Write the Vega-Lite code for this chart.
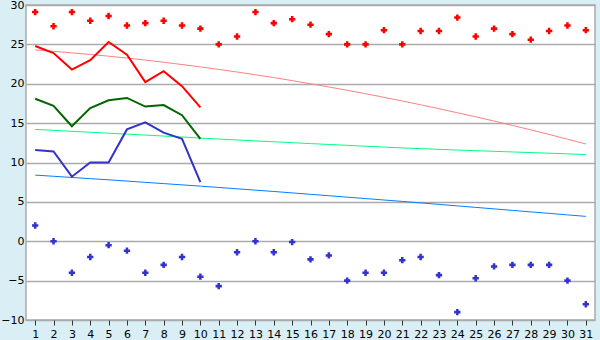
{
  "$schema": "https://vega.github.io/schema/vega-lite/v6.json",
  "width": 569,
  "height": 315,
  "autosize": {"type": "none"},
  "padding": {"left": 26, "top": 5, "right": 5, "bottom": 20},
  "background": "#D9EFF5",
  "view": {"fill": "#FFFFFF", "stroke": "#AAAAAA", "strokeWidth": 1.5},
  "config": {
    "axis": {"labelFont": "DejaVu Sans", "labelFontSize": 11, "labelColor": "#000000", "title": null, "domain": false},
    "axisY": {"grid": true, "gridColor": "#AAAAAA", "gridWidth": 1.5, "ticks": false, "labelPadding": 2, "labelFlush": false}
  },
  "data": {"values": [
    {"day": 1, "tmax": 29.1, "tmin": 2.0, "hi": 24.8, "mid": 18.1, "lo": 11.6, "thi": 24.3, "tmid": 14.2, "tlo": 8.4},
    {"day": 2, "tmax": 27.3, "tmin": 0.0, "hi": 23.9, "mid": 17.2, "lo": 11.4, "thi": 24.12, "tmid": 14.08, "tlo": 8.25},
    {"day": 3, "tmax": 29.1, "tmin": -4.0, "hi": 21.8, "mid": 14.6, "lo": 8.2, "thi": 23.92, "tmid": 13.96, "tlo": 8.1},
    {"day": 4, "tmax": 28.0, "tmin": -2.0, "hi": 23.0, "mid": 16.9, "lo": 10.0, "thi": 23.72, "tmid": 13.84, "tlo": 7.95},
    {"day": 5, "tmax": 28.6, "tmin": -0.5, "hi": 25.3, "mid": 17.9, "lo": 10.0, "thi": 23.5, "tmid": 13.72, "tlo": 7.8},
    {"day": 6, "tmax": 27.4, "tmin": -1.2, "hi": 23.7, "mid": 18.2, "lo": 14.2, "thi": 23.26, "tmid": 13.6, "tlo": 7.64},
    {"day": 7, "tmax": 27.7, "tmin": -4.0, "hi": 20.2, "mid": 17.1, "lo": 15.1, "thi": 23.0, "tmid": 13.48, "tlo": 7.48},
    {"day": 8, "tmax": 28.0, "tmin": -3.0, "hi": 21.6, "mid": 17.3, "lo": 13.8, "thi": 22.73, "tmid": 13.36, "tlo": 7.32},
    {"day": 9, "tmax": 27.4, "tmin": -2.0, "hi": 19.7, "mid": 16.0, "lo": 13.0, "thi": 22.44, "tmid": 13.24, "tlo": 7.16},
    {"day": 10, "tmax": 27.0, "tmin": -4.5, "hi": 17.0, "mid": 13.0, "lo": 7.5, "thi": 22.14, "tmid": 13.1, "tlo": 7.0},
    {"day": 11, "tmax": 25.0, "tmin": -5.7, "hi": null, "mid": null, "lo": null, "thi": 21.82, "tmid": 12.98, "tlo": 6.83},
    {"day": 12, "tmax": 26.0, "tmin": -1.4, "hi": null, "mid": null, "lo": null, "thi": 21.49, "tmid": 12.86, "tlo": 6.66},
    {"day": 13, "tmax": 29.1, "tmin": 0.0, "hi": null, "mid": null, "lo": null, "thi": 21.14, "tmid": 12.74, "tlo": 6.49},
    {"day": 14, "tmax": 27.7, "tmin": -1.4, "hi": null, "mid": null, "lo": null, "thi": 20.78, "tmid": 12.63, "tlo": 6.32},
    {"day": 15, "tmax": 28.2, "tmin": -0.1, "hi": null, "mid": null, "lo": null, "thi": 20.4, "tmid": 12.52, "tlo": 6.14},
    {"day": 16, "tmax": 27.5, "tmin": -2.3, "hi": null, "mid": null, "lo": null, "thi": 20.0, "tmid": 12.4, "tlo": 5.96},
    {"day": 17, "tmax": 26.3, "tmin": -1.8, "hi": null, "mid": null, "lo": null, "thi": 19.59, "tmid": 12.29, "tlo": 5.78},
    {"day": 18, "tmax": 25.0, "tmin": -5.0, "hi": null, "mid": null, "lo": null, "thi": 19.17, "tmid": 12.18, "tlo": 5.6},
    {"day": 19, "tmax": 25.0, "tmin": -4.0, "hi": null, "mid": null, "lo": null, "thi": 18.73, "tmid": 12.07, "tlo": 5.42},
    {"day": 20, "tmax": 26.8, "tmin": -4.0, "hi": null, "mid": null, "lo": null, "thi": 18.28, "tmid": 11.96, "tlo": 5.24},
    {"day": 21, "tmax": 25.0, "tmin": -2.4, "hi": null, "mid": null, "lo": null, "thi": 17.81, "tmid": 11.85, "tlo": 5.06},
    {"day": 22, "tmax": 26.7, "tmin": -2.0, "hi": null, "mid": null, "lo": null, "thi": 17.33, "tmid": 11.76, "tlo": 4.87},
    {"day": 23, "tmax": 26.7, "tmin": -4.3, "hi": null, "mid": null, "lo": null, "thi": 16.83, "tmid": 11.67, "tlo": 4.68},
    {"day": 24, "tmax": 28.4, "tmin": -9.0, "hi": null, "mid": null, "lo": null, "thi": 16.32, "tmid": 11.58, "tlo": 4.49},
    {"day": 25, "tmax": 26.0, "tmin": -4.7, "hi": null, "mid": null, "lo": null, "thi": 15.8, "tmid": 11.5, "tlo": 4.3},
    {"day": 26, "tmax": 27.0, "tmin": -3.2, "hi": null, "mid": null, "lo": null, "thi": 15.26, "tmid": 11.42, "tlo": 4.11},
    {"day": 27, "tmax": 26.3, "tmin": -3.0, "hi": null, "mid": null, "lo": null, "thi": 14.71, "tmid": 11.34, "tlo": 3.92},
    {"day": 28, "tmax": 25.6, "tmin": -3.0, "hi": null, "mid": null, "lo": null, "thi": 14.14, "tmid": 11.26, "tlo": 3.73},
    {"day": 29, "tmax": 26.7, "tmin": -3.0, "hi": null, "mid": null, "lo": null, "thi": 13.56, "tmid": 11.18, "tlo": 3.54},
    {"day": 30, "tmax": 27.4, "tmin": -5.0, "hi": null, "mid": null, "lo": null, "thi": 12.96, "tmid": 11.1, "tlo": 3.35},
    {"day": 31, "tmax": 26.8, "tmin": -8.0, "hi": null, "mid": null, "lo": null, "thi": 12.35, "tmid": 11.0, "tlo": 3.16}
  ]},
  "encoding": {
    "x": {"field": "day", "type": "quantitative",
      "scale": {"domain": [0.5, 31.5], "nice": false, "zero": false},
      "axis": {"values": [1,2,3,4,5,6,7,8,9,10,11,12,13,14,15,16,17,18,19,20,21,22,23,24,25,26,27,28,29,30,31],
        "grid": false, "tickSize": 5, "tickColor": "#333333", "labelPadding": 3, "format": "d", "labelFlush": false}}
  },
  "layer": [
    {"mark": {"type": "line", "color": "#FF8080", "strokeWidth": 1},
      "encoding": {"y": {"field": "thi", "type": "quantitative",
        "scale": {"domain": [-10, 30], "nice": false, "zero": false},
        "axis": {"values": [-10,-5,0,5,10,15,20,25,30]}}}},
    {"mark": {"type": "line", "color": "#00FF80", "strokeWidth": 1},
      "encoding": {"y": {"field": "tmid", "type": "quantitative", "axis": {"values": [-10,-5,0,5,10,15,20,25,30]}}}},
    {"mark": {"type": "line", "color": "#0080FF", "strokeWidth": 1},
      "encoding": {"y": {"field": "tlo", "type": "quantitative", "axis": {"values": [-10,-5,0,5,10,15,20,25,30]}}}},
    {"transform": [{"filter": "datum.hi != null"}],
      "mark": {"type": "line", "color": "#FF0000", "strokeWidth": 2},
      "encoding": {"y": {"field": "hi", "type": "quantitative", "axis": {"values": [-10,-5,0,5,10,15,20,25,30]}}}},
    {"transform": [{"filter": "datum.mid != null"}],
      "mark": {"type": "line", "color": "#006600", "strokeWidth": 2},
      "encoding": {"y": {"field": "mid", "type": "quantitative", "axis": {"values": [-10,-5,0,5,10,15,20,25,30]}}}},
    {"transform": [{"filter": "datum.lo != null"}],
      "mark": {"type": "line", "color": "#3333CC", "strokeWidth": 2},
      "encoding": {"y": {"field": "lo", "type": "quantitative", "axis": {"values": [-10,-5,0,5,10,15,20,25,30]}}}},
    {"mark": {"type": "point", "shape": "cross", "filled": true, "size": 40, "color": "#FF0000", "opacity": 1},
      "encoding": {"y": {"field": "tmax", "type": "quantitative", "axis": {"values": [-10,-5,0,5,10,15,20,25,30]}}}},
    {"mark": {"type": "point", "shape": "cross", "filled": true, "size": 40, "color": "#3333CC", "opacity": 1},
      "encoding": {"y": {"field": "tmin", "type": "quantitative", "axis": {"values": [-10,-5,0,5,10,15,20,25,30]}}}}
  ]
}
